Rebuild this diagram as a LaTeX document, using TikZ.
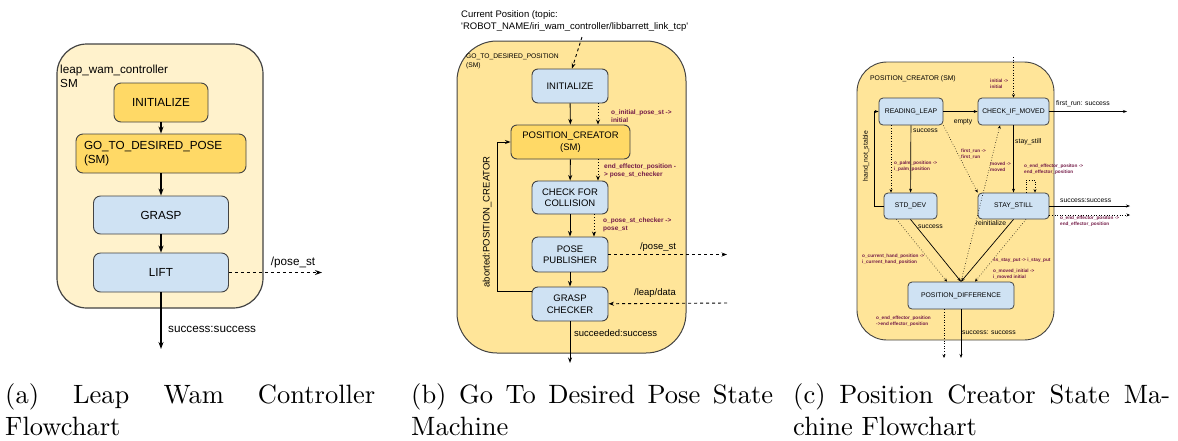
\documentclass[tikz,border=0pt]{standalone}
\usepackage{fontspec}
\newfontfamily\arial{Liberation Sans}
\newfontfamily\lmten{lmroman10-regular.otf}
\usetikzlibrary{arrows.meta}
\definecolor{bordc}{HTML}{434343}
\definecolor{creamc}{HTML}{FFF2CC}
\definecolor{yelc}{HTML}{FFE599}
\definecolor{goldc}{HTML}{FFD966}
\definecolor{bluec}{HTML}{CFE2F3}
\definecolor{labc}{HTML}{741B47}
\newcommand\fsz[2]{\fontsize{#1pt}{#2pt}\selectfont}
\tikzset{
  outerbox/.style={draw=bordc, line width=1pt},
  boxa/.style={draw=bordc, line width=0.9pt, rounded corners=7pt, align=center, inner sep=0pt, font=\arial\fsz{11.7}{14}},
  boxb/.style={draw=bordc, line width=0.9pt, rounded corners=6pt, align=center, inner sep=0pt, font=\arial\fsz{9.5}{11.5}},
  boxc/.style={draw=bordc, line width=0.8pt, rounded corners=4pt, align=center, inner sep=0pt, font=\arial\fsz{6.8}{8}},
  txa/.style={font=\arial\fsz{11.7}{14}, inner sep=0pt, align=left},
  txb/.style={font=\arial\fsz{9.5}{11.5}, inner sep=0pt, align=left},
  txc/.style={font=\arial\fsz{6.8}{8}, inner sep=0pt, align=left},
  lbb/.style={font=\arial\bfseries\fsz{6.5}{8}, text=labc, inner sep=0pt, align=left, anchor=west},
  lbc/.style={font=\arial\bfseries\fsz{4.7}{5.8}, text=labc, inner sep=0pt, align=left, anchor=west},
  arra/.style={line width=1.1pt, -{Stealth[length=7pt,width=5pt]}},
  arrb/.style={line width=0.9pt, -{Stealth[length=5.5pt,width=4pt]}},
  arrc/.style={line width=0.7pt, -{Stealth[length=4pt,width=3pt]}},
  dotb/.style={line width=0.9pt, dotted, -{Stealth[length=5pt,width=4pt]}},
  dotc/.style={line width=0.6pt, dotted, -{Stealth[length=3.5pt,width=3pt]}},
  capt/.style={font=\lmten\fsz{26.5}{32}, inner sep=0pt, anchor=base west}
}
\begin{document}
\begin{tikzpicture}[x=1pt,y=-1pt]
\useasboundingbox (0,0) rectangle (1178,440);

% ---------------- Panel (a) ----------------
\draw[outerbox, fill=creamc, line width=1.2pt, rounded corners=30pt] (57,44) rectangle (263,308);
\node[txa, anchor=west] (a_title) at (60,76) {leap\_wam\_controller\\SM};
\node[boxa, fill=goldc, minimum width=94pt, minimum height=39pt] (a_init) at (161,102.5) {INITIALIZE};
\node[boxa, fill=goldc, minimum width=170pt, minimum height=39pt, text width=158pt, align=left] (a_go) at (161,153.5) {\hspace*{2pt}GO\_TO\_DESIRED\_POSE\\\hspace*{2pt}(SM)};
\node[boxa, fill=bluec, minimum width=135pt, minimum height=38pt] (a_grasp) at (161,215) {GRASP};
\node[boxa, fill=bluec, minimum width=135pt, minimum height=39pt] (a_lift) at (161,272.5) {LIFT};
\coordinate (a_exit) at (161,349);
\coordinate (a_out) at (322,272.5);
\draw[arra] (a_init) -- (a_go);
\draw[arra] (a_go) -- (a_grasp);
\draw[arra] (a_grasp) -- (a_lift);
\draw[arra] (a_lift) -- (a_exit);
\draw[arra, dashed] (a_lift) -- (a_out);
\node[txa, anchor=west] (a_succ) at (168,329) {success:success};
\node[txa] (a_pose) at (293,262) {/pose\_st};

% ---------------- Panel (b) ----------------
\node[txb, anchor=west] (b_cur) at (461,21) {Current Position (topic:\\'ROBOT\_NAME/iri\_wam\_controller/libbarrett\_link\_tcp'};
\draw[outerbox, fill=yelc, rounded corners=40pt] (457,41) rectangle (686,353);
\node[font=\arial\fsz{6.7}{8.5}, inner sep=0pt, align=left, anchor=west] (b_title) at (466,61.5) {GO\_TO\_DESIRED\_POSITION\\(SM)};
\node[boxb, fill=bluec, minimum width=76pt, minimum height=34pt] (b_init) at (570,86) {INITIALIZE};
\node[boxb, fill=goldc, minimum width=119pt, minimum height=34pt] (b_pc) at (570.5,142) {POSITION\_CREATOR\\(SM)};
\node[boxb, fill=bluec, minimum width=76pt, minimum height=33pt] (b_cc) at (570,197.5) {CHECK FOR\\COLLISION};
\node[boxb, fill=bluec, minimum width=76pt, minimum height=35pt] (b_pp) at (570,254.5) {POSE\\PUBLISHER};
\node[boxb, fill=bluec, minimum width=76pt, minimum height=34pt] (b_gc) at (570,304) {GRASP\\CHECKER};
\coordinate (b_cp) at (582,37);
\coordinate (b_exit) at (570,363);
\coordinate (b_out) at (727,254.5);
\coordinate (b_in) at (727,303);
\coordinate (b_loop) at (497,142);
\draw[arrb, dashed] (b_cp) -- ([xshift=2pt]b_init.north);
\draw[arrb] (b_init) -- (b_pc);
\draw[arrb] (b_pc) -- (b_cc);
\draw[arrb] (b_cc) -- (b_pp);
\draw[arrb] (b_pp) -- (b_gc);
\draw[arrb] (b_gc) -- (b_exit);
\draw[dotb] ([xshift=28pt]b_init.south) -- ([xshift=27.5pt]b_pc.north);
\draw[dotb] ([xshift=27.5pt]b_pc.south) -- ([xshift=28pt]b_cc.north);
\draw[dotb] ([xshift=24pt]b_cc.south) -- ([xshift=24pt]b_pp.north);
\draw[arrb, dashed] (b_pp) -- (b_out);
\draw[arrb, dashed] (b_in) -- (b_gc);
\draw[arrb] ([yshift=13pt]b_gc.west) -| (b_loop) -- (b_pc.west);
\node[lbb] (b_l1) at (611,116) {o\_initial\_pose\_st -\textgreater\\initial};
\node[lbb] (b_l2) at (604,171) {end\_effector\_position -\\\textgreater{} pose\_st\_checker};
\node[lbb] (b_l3) at (603,225) {o\_pose\_st\_checker -\textgreater\\pose\_st};
\node[txb] (b_pose) at (658,247) {/pose\_st};
\node[txb] (b_leap) at (655,293) {/leap/data};
\node[txb, anchor=west] (b_succ) at (574,333) {succeeded:success};
\node[txb, rotate=90] (b_abort) at (487,222) {aborted:POSITION\_CREATOR};

% ---------------- Panel (c) ----------------
\draw[outerbox, fill=yelc, line width=0.9pt, rounded corners=30pt] (857,62) rectangle (1054,340);
\node[txc, anchor=west] (c_title) at (870,79) {POSITION\_CREATOR (SM)};
\node[boxc, fill=bluec, minimum width=64pt, minimum height=27pt] (c_rl) at (911,111.5) {READING\_LEAP};
\node[boxc, fill=bluec, minimum width=71pt, minimum height=27pt] (c_cm) at (1013.5,111.5) {CHECK\_IF\_MOVED};
\node[boxc, fill=bluec, minimum width=53pt, minimum height=26pt] (c_sd) at (910.5,206) {STD\_DEV};
\node[boxc, fill=bluec, minimum width=71pt, minimum height=26pt] (c_ss) at (1013.5,206) {STAY\_STILL};
\node[boxc, fill=bluec, minimum width=106pt, minimum height=27pt] (c_pd) at (961,295.5) {POSITION\_DIFFERENCE};
\coordinate (c_in) at (1013.5,57);
\coordinate (c_fr) at (1127,111.5);
\coordinate (c_so) at (1130,206);
\coordinate (c_do) at (1130,215);
\coordinate (c_hl) at (874,111.5);
\coordinate (c_e1) at (961,358);
\coordinate (c_e2) at (944,358);
\coordinate (c_la) at (1026,180);
\coordinate (c_lb) at (1035,180);
% connectors
\draw[dotc] (c_in) -- (c_cm.north);
\draw[arrc] (c_rl) -- (c_cm);
\draw[arrc] (c_cm) -- (c_fr);
\draw[arrc] (c_rl) -- (c_sd);
\draw[dotc] ([xshift=-20pt]c_rl.south) -- ([xshift=-19.5pt]c_sd.north);
\draw[arrc] (c_cm) -- (c_ss);
\draw[arrc] (c_sd.west) -| (c_hl) -- (c_rl.west);
\draw[dotc] (c_rl.south east) -- (c_ss.north west);
\draw[dotc] (c_pd.north) -- ([xshift=-13.5pt]c_cm.south);
\draw[dotc] ([xshift=12.5pt]c_ss.north) |- (c_la) -- (c_lb) -- ([xshift=21.5pt]c_ss.north);
\draw[arrc] (c_ss) -- (c_so);
\draw[dotc] ([yshift=-9pt]c_ss.east) -- (c_do);
\draw[arrc] (c_sd.south) -- (c_pd.north);
\draw[dotc] ([xshift=-14pt]c_sd.south) -- ([xshift=-14pt]c_pd.north);
\draw[arrc] (c_ss.south) -- (c_pd.north);
\draw[dotc] ([xshift=12.5pt]c_ss.south) -- ([xshift=14pt]c_pd.north);
\draw[arrc] (c_pd) -- (c_e1);
\draw[dotc] ([xshift=-17pt]c_pd.south) -- (c_e2);
% labels
\node[lbc] (c_l1) at (990,84) {initial -\textgreater\\initial};
\node[txc] (c_empty) at (963,122) {empty};
\node[txc, anchor=west] (c_frs) at (1056,104) {first\_run: success};
\node[txc, anchor=west] (c_s1) at (913,131) {success};
\node[lbc] (c_l2) at (894,166) {o\_palm\_position -\textgreater\\i\_palm\_position};
\node[txc, anchor=west] (c_st) at (1015,142) {stay\_still};
\node[txc, rotate=90] (c_hns) at (866,156) {hand\_not\_stable};
\node[lbc] (c_l3) at (961,154) {first\_run -\textgreater\\first\_run};
\node[lbc] (c_l4) at (990,167) {moved -\textgreater\\moved};
\node[lbc] (c_l5) at (1024,169) {o\_end\_effector\_positon -\textgreater\\end\_effector\_position};
\node[txc, anchor=west] (c_ssl) at (1060,201) {success:success};
\node[lbc] (c_l6) at (1060,221.5) {o\_end\_effector\_positon -\textgreater\\end\_effector\_position};
\node[txc, anchor=west] (c_s2) at (918,227) {success};
\node[txc] (c_rein) at (991,223) {reinitialize};
\node[lbc] (c_l7) at (862,259.5) {o\_current\_hand\_position -\textgreater\\i\_current\_hand\_position};
\node[lbc] (c_l8) at (993,260) {ss\_stay\_put -\textgreater{} i\_stay\_put};
\node[lbc] (c_l9) at (993,274) {o\_moved\_initial -\textgreater\\i\_moved initial};
\node[lbc] (c_l10) at (876,321) {o\_end\_effector\_position\\-\textgreater end effector\_position};
\node[txc, anchor=west] (c_s3) at (962,333) {success: success};

% ---------------- Captions ----------------
\node[capt] (cap_a1) at (5,403) {\makebox[370pt][s]{(a) Leap Wam Controller}};
\node[capt] (cap_a2) at (5,435) {Flowchart};
\node[capt] (cap_b1) at (411,403) {\makebox[362pt][s]{(b) Go To Desired Pose State}};
\node[capt] (cap_b2) at (411,435) {Machine};
\node[capt] (cap_c1) at (793,403) {\makebox[377pt][s]{(c) Position Creator State Ma-}};
\node[capt] (cap_c2) at (793,435) {chine Flowchart};
\end{tikzpicture}
\end{document}
